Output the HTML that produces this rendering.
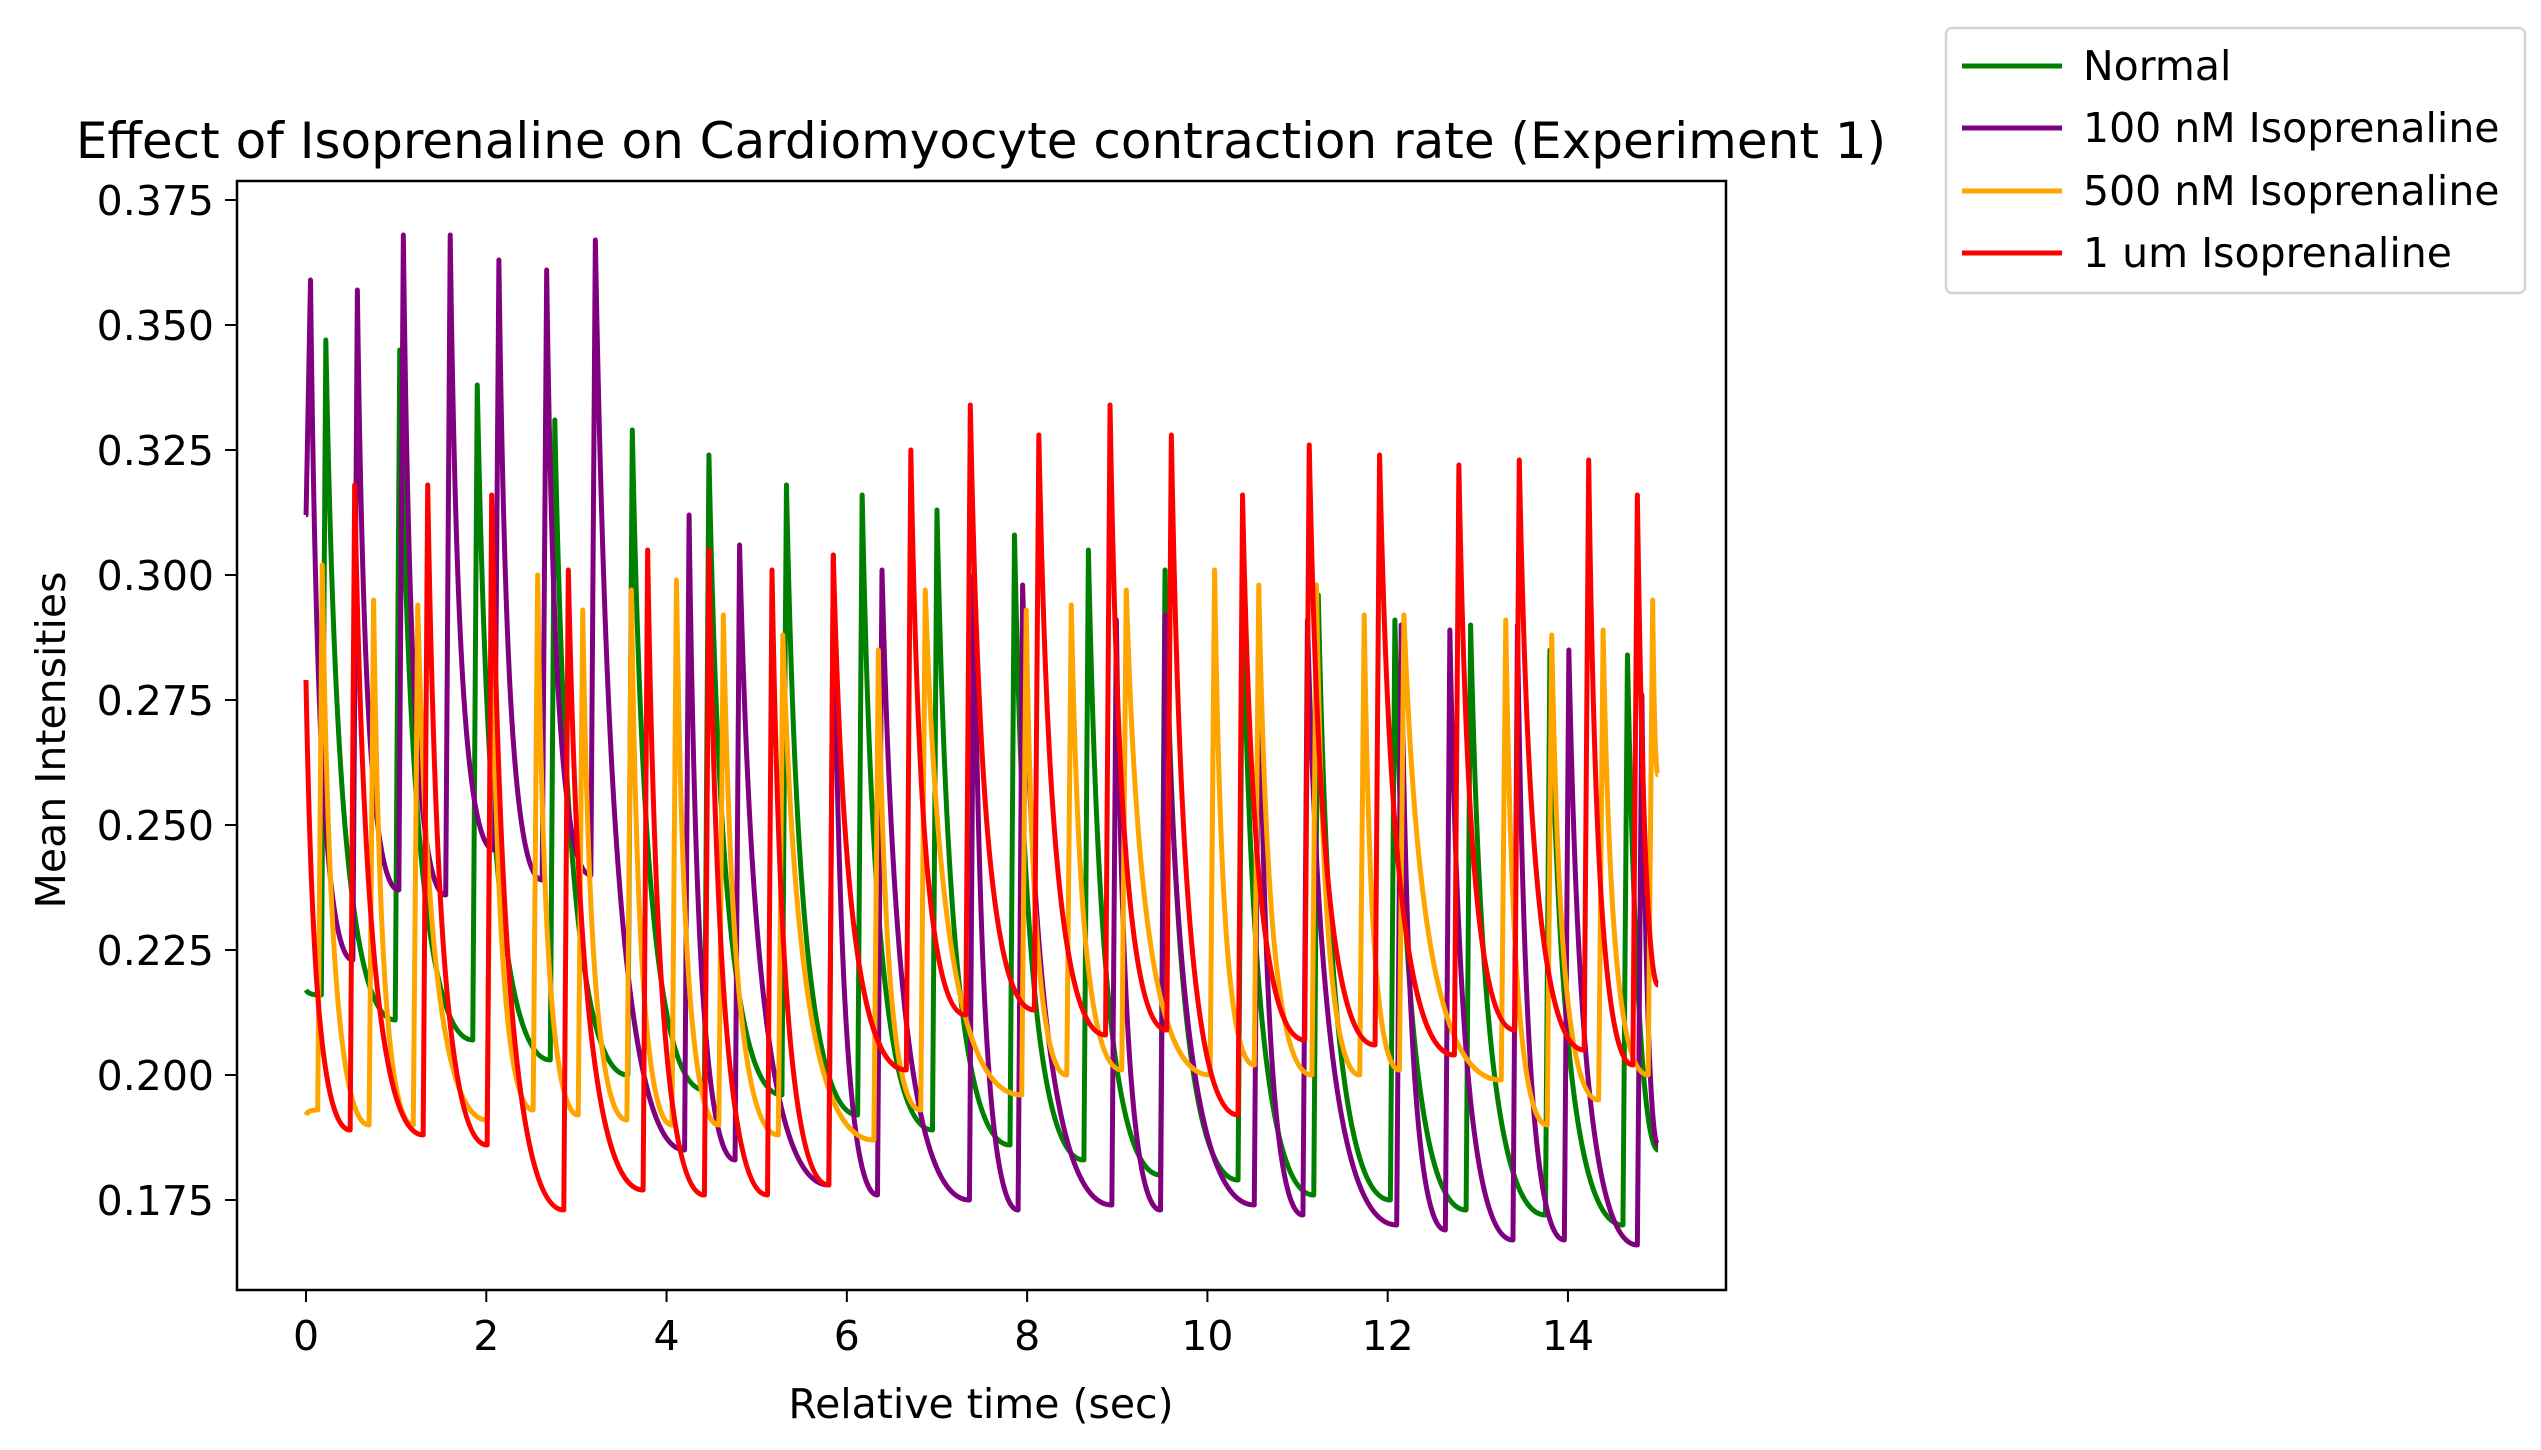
<!DOCTYPE html>
<html><head><meta charset="utf-8"><style>
html,body{margin:0;padding:0;background:#fff;}
svg{display:block;font-family:"DejaVu Sans","Liberation Sans",sans-serif;}
</style></head><body>
<svg id="chart" width="2541" height="1450" viewBox="0 0 2541 1450">
<rect x="0" y="0" width="2541" height="1450" fill="#fff"/>
<text x="981" y="158" font-size="50" text-anchor="middle">Effect of Isoprenaline on Cardiomyocyte contraction rate (Experiment 1)</text>
<g id="series"></g>
<g id="axes"></g>
<rect x="237" y="181" width="1489" height="1109" fill="none" stroke="#000" stroke-width="2.5"/>
<text x="981" y="1418" font-size="41" text-anchor="middle">Relative time (sec)</text>
<text transform="translate(65,740) rotate(-90)" font-size="41" text-anchor="middle">Mean Intensities</text>
<g>
<rect x="1946" y="28" width="579" height="265" rx="6" fill="#fff" stroke="#d4d4d4" stroke-width="2.5"/>
<line x1="1962" y1="66" x2="2062" y2="66" stroke="green" stroke-width="5"/>
<text x="2083" y="80" font-size="41">Normal</text>
<line x1="1962" y1="128" x2="2062" y2="128" stroke="purple" stroke-width="5"/>
<text x="2083" y="142" font-size="41">100 nM Isoprenaline</text>
<line x1="1962" y1="191" x2="2062" y2="191" stroke="orange" stroke-width="5"/>
<text x="2083" y="205" font-size="41">500 nM Isoprenaline</text>
<line x1="1962" y1="253" x2="2062" y2="253" stroke="red" stroke-width="5"/>
<text x="2083" y="267" font-size="41">1 um Isoprenaline</text>
</g>
</svg>
<script>
const xTicks = [0,2,4,6,8,10,12,14];
const yTicks = [0.175,0.200,0.225,0.250,0.275,0.300,0.325,0.350,0.375];
const yTickLabels = ["0.175","0.200","0.225","0.250","0.275","0.300","0.325","0.350","0.375"];

const normalPeakT = [0.22,1.04,1.90,2.76,3.62,4.47,5.33,6.17,7.00,7.86,8.68,9.53,10.39,11.23,12.08,12.92,13.80,14.66];
const normalPeakV = [0.347,0.345,0.338,0.331,0.329,0.324,0.318,0.316,0.313,0.308,0.305,0.301,0.297,0.296,0.291,0.290,0.285,0.284];
const normalTroughV = [0.216,0.211,0.207,0.203,0.200,0.197,0.196,0.192,0.189,0.186,0.183,0.180,0.179,0.176,0.175,0.173,0.172,0.170];
const normalStartEnd = [0.217,0.185];

const nm100PeakT = [0.05,0.57,1.08,1.60,2.14,2.67,3.21,4.25,4.81,5.85,6.39,7.41,7.95,8.99,9.53,10.57,11.11,12.15,12.69,13.44,14.01,14.82];
const nm100PeakV = [0.359,0.357,0.368,0.368,0.363,0.361,0.367,0.312,0.306,0.304,0.301,0.300,0.298,0.291,0.292,0.291,0.291,0.290,0.289,0.290,0.285,0.276];
const nm100TroughV = [0.312,0.223,0.237,0.236,0.245,0.239,0.240,0.185,0.183,0.178,0.176,0.175,0.173,0.174,0.173,0.174,0.172,0.170,0.169,0.167,0.167,0.166];
const nm100StartEnd = [0.312,0.186];

const nm500PeakT = [0.18,0.75,1.24,2.06,2.57,3.07,3.61,4.11,4.63,5.29,6.35,6.87,7.99,8.49,9.10,10.08,10.57,11.21,11.74,12.18,13.31,13.82,14.39,14.94];
const nm500PeakV = [0.302,0.295,0.294,0.295,0.300,0.293,0.297,0.299,0.292,0.288,0.285,0.297,0.293,0.294,0.297,0.301,0.298,0.298,0.292,0.292,0.291,0.288,0.289,0.295];
const nm500TroughV = [0.193,0.190,0.190,0.191,0.193,0.192,0.191,0.190,0.190,0.188,0.187,0.193,0.196,0.200,0.201,0.200,0.202,0.200,0.200,0.201,0.199,0.190,0.195,0.200];
const nm500StartEnd = [0.192,0.260];

const um1PeakT = [0.54,1.35,2.06,2.91,3.79,4.47,5.17,5.85,6.71,7.37,8.13,8.92,9.60,10.39,11.13,11.91,12.79,13.46,14.23,14.77];
const um1PeakV = [0.318,0.318,0.316,0.301,0.305,0.305,0.301,0.304,0.325,0.334,0.328,0.334,0.328,0.316,0.326,0.324,0.322,0.323,0.323,0.316];
const um1TroughV = [0.189,0.188,0.186,0.173,0.177,0.176,0.176,0.178,0.201,0.212,0.213,0.208,0.209,0.192,0.207,0.206,0.204,0.209,0.205,0.202];
const um1StartEnd = [0.279,0.218];

const X0=306, XS=90.14, Y0=200, YS=5000;
function xs(t){return X0+t*XS;}
function ys(v){return Y0+(0.375-v)*YS;}
const NS='http://www.w3.org/2000/svg';
const axes=document.getElementById('axes');
xTicks.forEach(function(t){
  const l=document.createElementNS(NS,'line');
  l.setAttribute('x1',xs(t));l.setAttribute('x2',xs(t));l.setAttribute('y1',1290);l.setAttribute('y2',1302);
  l.setAttribute('stroke','#000');l.setAttribute('stroke-width','2');
  
  
  axes.appendChild(l);
  const tx=document.createElementNS(NS,'text');
  tx.setAttribute('x',xs(t));tx.setAttribute('y',1350);tx.setAttribute('font-size','41');tx.setAttribute('text-anchor','middle');
  tx.textContent=String(t);
  
  
  axes.appendChild(tx);
});
yTicks.forEach(function(v,i){
  const l=document.createElementNS(NS,'line');
  l.setAttribute('x1',225);l.setAttribute('x2',237);l.setAttribute('y1',ys(v));l.setAttribute('y2',ys(v));
  l.setAttribute('stroke','#000');l.setAttribute('stroke-width','2');
  
  
  axes.appendChild(l);
  const tx=document.createElementNS(NS,'text');
  tx.setAttribute('x',214);tx.setAttribute('y',ys(v)+15);tx.setAttribute('font-size','41');tx.setAttribute('text-anchor','end');
  tx.textContent=yTickLabels[i];
  
  
  axes.appendChild(tx);
});
function buildPath(pt,pv,tv,se){
  const rise=0.05;
  let d='M'+xs(0)+','+ys(se[0]);
  let prevT=0, prevV=se[0];
  for(let i=0;i<pt.length;i++){
    const tEnd=Math.max(pt[i]-rise,prevT+0.001);
    const dt=tEnd-prevT, tr=tv[i];
    d+=' C'+xs(prevT+0.12*dt)+','+ys(tr+0.35*(prevV-tr))+' '+xs(prevT+0.35*dt)+','+ys(tr)+' '+xs(tEnd)+','+ys(tr);
    d+=' L'+xs(pt[i])+','+ys(pv[i]);
    prevT=pt[i]; prevV=pv[i];
  }
  const dt=15-prevT, tr=se[1];
  d+=' C'+xs(prevT+0.2*dt)+','+ys(tr+0.4*(prevV-tr))+' '+xs(prevT+0.5*dt)+','+ys(tr)+' '+xs(15)+','+ys(tr);
  return d;
}
const g=document.getElementById('series');
function addSeries(name,color,pt,pv,tv,se){
  const p=document.createElementNS(NS,'path');
  p.setAttribute('d',buildPath(pt,pv,tv,se));
  p.setAttribute('fill','none');p.setAttribute('stroke',color);p.setAttribute('stroke-width','5');p.setAttribute('stroke-linejoin','round');
  
  
  g.appendChild(p);
}
addSeries('line-normal','green',normalPeakT,normalPeakV,normalTroughV,normalStartEnd);
addSeries('line-100nm-isoprenaline','purple',nm100PeakT,nm100PeakV,nm100TroughV,nm100StartEnd);
addSeries('line-500nm-isoprenaline','orange',nm500PeakT,nm500PeakV,nm500TroughV,nm500StartEnd);
addSeries('line-1um-isoprenaline','red',um1PeakT,um1PeakV,um1TroughV,um1StartEnd);
</script>
</body></html>
